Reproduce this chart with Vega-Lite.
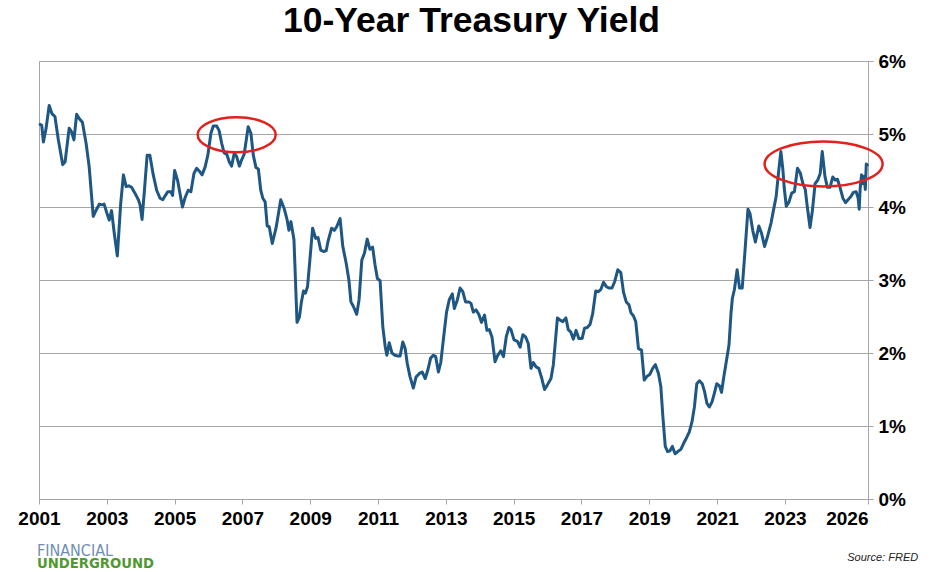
{
  "$schema": "https://vega.github.io/schema/vega-lite/v6.json",
  "width": 829,
  "height": 438,
  "autosize": {"type": "none"},
  "padding": {"left": 39, "top": 61, "right": 71, "bottom": 73},
  "background": "white",
  "title": {
    "text": "10-Year Treasury Yield",
    "font": "Liberation Sans",
    "fontSize": 35.5,
    "fontWeight": "bold",
    "color": "#000000",
    "anchor": "middle",
    "dx": 18,
    "offset": 13
  },
  "config": {
    "font": "Liberation Sans",
    "view": {"stroke": "#a6a6a6", "strokeWidth": 1}
  },
  "datasets": {
    "yield": [
      {"year": 2001.00, "pct": 5.14}, {"year": 2001.08, "pct": 5.12}, {"year": 2001.13, "pct": 4.89},
      {"year": 2001.21, "pct": 5.08}, {"year": 2001.30, "pct": 5.39}, {"year": 2001.38, "pct": 5.28},
      {"year": 2001.47, "pct": 5.24}, {"year": 2001.57, "pct": 4.92}, {"year": 2001.70, "pct": 4.58},
      {"year": 2001.77, "pct": 4.62}, {"year": 2001.89, "pct": 5.08}, {"year": 2001.96, "pct": 5.03},
      {"year": 2002.03, "pct": 4.92}, {"year": 2002.11, "pct": 5.27}, {"year": 2002.19, "pct": 5.21},
      {"year": 2002.28, "pct": 5.16}, {"year": 2002.39, "pct": 4.87}, {"year": 2002.48, "pct": 4.55},
      {"year": 2002.60, "pct": 3.87}, {"year": 2002.70, "pct": 3.97}, {"year": 2002.78, "pct": 4.04},
      {"year": 2002.85, "pct": 4.03}, {"year": 2002.92, "pct": 4.04}, {"year": 2003.00, "pct": 3.92},
      {"year": 2003.07, "pct": 3.82}, {"year": 2003.14, "pct": 3.95}, {"year": 2003.22, "pct": 3.64},
      {"year": 2003.31, "pct": 3.33}, {"year": 2003.41, "pct": 4.05}, {"year": 2003.49, "pct": 4.44},
      {"year": 2003.57, "pct": 4.28}, {"year": 2003.65, "pct": 4.29}, {"year": 2003.73, "pct": 4.27},
      {"year": 2003.83, "pct": 4.19}, {"year": 2003.93, "pct": 4.10}, {"year": 2003.98, "pct": 4.03},
      {"year": 2004.04, "pct": 3.83}, {"year": 2004.11, "pct": 4.23}, {"year": 2004.19, "pct": 4.71},
      {"year": 2004.27, "pct": 4.71}, {"year": 2004.37, "pct": 4.44}, {"year": 2004.47, "pct": 4.23},
      {"year": 2004.57, "pct": 4.12}, {"year": 2004.65, "pct": 4.10}, {"year": 2004.73, "pct": 4.16},
      {"year": 2004.80, "pct": 4.21}, {"year": 2004.89, "pct": 4.21}, {"year": 2004.94, "pct": 4.16},
      {"year": 2005.00, "pct": 4.50}, {"year": 2005.09, "pct": 4.36}, {"year": 2005.23, "pct": 4.00},
      {"year": 2005.31, "pct": 4.13}, {"year": 2005.40, "pct": 4.23}, {"year": 2005.48, "pct": 4.21},
      {"year": 2005.57, "pct": 4.46}, {"year": 2005.65, "pct": 4.53}, {"year": 2005.73, "pct": 4.49},
      {"year": 2005.81, "pct": 4.44}, {"year": 2005.90, "pct": 4.55}, {"year": 2005.98, "pct": 4.71},
      {"year": 2006.07, "pct": 5.01}, {"year": 2006.14, "pct": 5.11}, {"year": 2006.24, "pct": 5.11},
      {"year": 2006.31, "pct": 5.05}, {"year": 2006.39, "pct": 4.87}, {"year": 2006.46, "pct": 4.74},
      {"year": 2006.54, "pct": 4.72}, {"year": 2006.61, "pct": 4.62}, {"year": 2006.68, "pct": 4.56},
      {"year": 2006.76, "pct": 4.74}, {"year": 2006.83, "pct": 4.69}, {"year": 2006.91, "pct": 4.56},
      {"year": 2006.98, "pct": 4.65}, {"year": 2007.05, "pct": 4.72}, {"year": 2007.17, "pct": 5.10},
      {"year": 2007.25, "pct": 5.01}, {"year": 2007.32, "pct": 4.71}, {"year": 2007.40, "pct": 4.54},
      {"year": 2007.47, "pct": 4.52}, {"year": 2007.54, "pct": 4.23}, {"year": 2007.60, "pct": 4.12},
      {"year": 2007.67, "pct": 4.07}, {"year": 2007.73, "pct": 3.74}, {"year": 2007.79, "pct": 3.73},
      {"year": 2007.88, "pct": 3.50}, {"year": 2007.99, "pct": 3.71}, {"year": 2008.13, "pct": 4.10},
      {"year": 2008.23, "pct": 3.98}, {"year": 2008.32, "pct": 3.82}, {"year": 2008.37, "pct": 3.68},
      {"year": 2008.43, "pct": 3.80}, {"year": 2008.52, "pct": 3.55}, {"year": 2008.61, "pct": 2.42},
      {"year": 2008.68, "pct": 2.49}, {"year": 2008.74, "pct": 2.70}, {"year": 2008.80, "pct": 2.85},
      {"year": 2008.86, "pct": 2.82}, {"year": 2008.92, "pct": 2.91}, {"year": 2008.99, "pct": 3.28},
      {"year": 2009.07, "pct": 3.71}, {"year": 2009.16, "pct": 3.57}, {"year": 2009.23, "pct": 3.58},
      {"year": 2009.31, "pct": 3.41}, {"year": 2009.39, "pct": 3.39}, {"year": 2009.47, "pct": 3.40},
      {"year": 2009.53, "pct": 3.54}, {"year": 2009.63, "pct": 3.71}, {"year": 2009.71, "pct": 3.68},
      {"year": 2009.78, "pct": 3.73}, {"year": 2009.88, "pct": 3.84}, {"year": 2009.96, "pct": 3.46},
      {"year": 2010.06, "pct": 3.23}, {"year": 2010.14, "pct": 3.00}, {"year": 2010.20, "pct": 2.70},
      {"year": 2010.27, "pct": 2.64}, {"year": 2010.37, "pct": 2.53}, {"year": 2010.44, "pct": 2.73},
      {"year": 2010.52, "pct": 3.27}, {"year": 2010.60, "pct": 3.37}, {"year": 2010.68, "pct": 3.56},
      {"year": 2010.76, "pct": 3.42}, {"year": 2010.84, "pct": 3.45}, {"year": 2010.91, "pct": 3.21},
      {"year": 2010.98, "pct": 3.02}, {"year": 2011.06, "pct": 2.99}, {"year": 2011.14, "pct": 2.36},
      {"year": 2011.21, "pct": 2.09}, {"year": 2011.26, "pct": 1.97}, {"year": 2011.33, "pct": 2.14},
      {"year": 2011.41, "pct": 2.00}, {"year": 2011.49, "pct": 1.97}, {"year": 2011.57, "pct": 1.96},
      {"year": 2011.65, "pct": 1.96}, {"year": 2011.73, "pct": 2.15}, {"year": 2011.80, "pct": 2.06},
      {"year": 2011.86, "pct": 1.86}, {"year": 2011.94, "pct": 1.68}, {"year": 2012.04, "pct": 1.52},
      {"year": 2012.12, "pct": 1.67}, {"year": 2012.22, "pct": 1.72}, {"year": 2012.30, "pct": 1.74},
      {"year": 2012.39, "pct": 1.65}, {"year": 2012.47, "pct": 1.77}, {"year": 2012.55, "pct": 1.93},
      {"year": 2012.63, "pct": 1.97}, {"year": 2012.70, "pct": 1.95}, {"year": 2012.78, "pct": 1.74},
      {"year": 2012.85, "pct": 1.87}, {"year": 2012.93, "pct": 2.20}, {"year": 2013.02, "pct": 2.56},
      {"year": 2013.10, "pct": 2.73}, {"year": 2013.19, "pct": 2.81}, {"year": 2013.25, "pct": 2.61},
      {"year": 2013.34, "pct": 2.73}, {"year": 2013.42, "pct": 2.89}, {"year": 2013.50, "pct": 2.84},
      {"year": 2013.58, "pct": 2.70}, {"year": 2013.68, "pct": 2.70}, {"year": 2013.74, "pct": 2.68},
      {"year": 2013.81, "pct": 2.56}, {"year": 2013.89, "pct": 2.59}, {"year": 2013.97, "pct": 2.53},
      {"year": 2014.05, "pct": 2.42}, {"year": 2014.14, "pct": 2.52}, {"year": 2014.21, "pct": 2.31},
      {"year": 2014.28, "pct": 2.32}, {"year": 2014.36, "pct": 2.22}, {"year": 2014.45, "pct": 1.88},
      {"year": 2014.52, "pct": 1.96}, {"year": 2014.62, "pct": 2.03}, {"year": 2014.70, "pct": 1.95},
      {"year": 2014.78, "pct": 2.22}, {"year": 2014.86, "pct": 2.35}, {"year": 2014.92, "pct": 2.32},
      {"year": 2015.01, "pct": 2.18}, {"year": 2015.11, "pct": 2.16}, {"year": 2015.19, "pct": 2.08},
      {"year": 2015.27, "pct": 2.25}, {"year": 2015.35, "pct": 2.22}, {"year": 2015.43, "pct": 2.13},
      {"year": 2015.51, "pct": 1.79}, {"year": 2015.58, "pct": 1.87}, {"year": 2015.66, "pct": 1.81},
      {"year": 2015.74, "pct": 1.79}, {"year": 2015.83, "pct": 1.65}, {"year": 2015.91, "pct": 1.50},
      {"year": 2015.99, "pct": 1.56}, {"year": 2016.10, "pct": 1.65}, {"year": 2016.17, "pct": 1.84},
      {"year": 2016.29, "pct": 2.48}, {"year": 2016.37, "pct": 2.45}, {"year": 2016.45, "pct": 2.43},
      {"year": 2016.54, "pct": 2.48}, {"year": 2016.61, "pct": 2.32}, {"year": 2016.68, "pct": 2.29},
      {"year": 2016.76, "pct": 2.19}, {"year": 2016.84, "pct": 2.31}, {"year": 2016.92, "pct": 2.20},
      {"year": 2017.02, "pct": 2.20}, {"year": 2017.09, "pct": 2.34}, {"year": 2017.17, "pct": 2.35},
      {"year": 2017.25, "pct": 2.39}, {"year": 2017.33, "pct": 2.54}, {"year": 2017.42, "pct": 2.85},
      {"year": 2017.50, "pct": 2.84}, {"year": 2017.57, "pct": 2.87}, {"year": 2017.65, "pct": 2.97},
      {"year": 2017.73, "pct": 2.91}, {"year": 2017.81, "pct": 2.89}, {"year": 2017.90, "pct": 2.89},
      {"year": 2017.98, "pct": 2.98}, {"year": 2018.07, "pct": 3.14}, {"year": 2018.16, "pct": 3.10},
      {"year": 2018.24, "pct": 2.83}, {"year": 2018.32, "pct": 2.70}, {"year": 2018.40, "pct": 2.66},
      {"year": 2018.46, "pct": 2.55}, {"year": 2018.53, "pct": 2.51}, {"year": 2018.60, "pct": 2.43},
      {"year": 2018.68, "pct": 2.06}, {"year": 2018.77, "pct": 2.04}, {"year": 2018.85, "pct": 1.63},
      {"year": 2018.93, "pct": 1.68}, {"year": 2019.02, "pct": 1.71}, {"year": 2019.10, "pct": 1.79},
      {"year": 2019.18, "pct": 1.84}, {"year": 2019.27, "pct": 1.72}, {"year": 2019.34, "pct": 1.54},
      {"year": 2019.40, "pct": 1.13}, {"year": 2019.47, "pct": 0.72}, {"year": 2019.54, "pct": 0.65},
      {"year": 2019.61, "pct": 0.66}, {"year": 2019.68, "pct": 0.72}, {"year": 2019.76, "pct": 0.62},
      {"year": 2019.84, "pct": 0.65}, {"year": 2019.93, "pct": 0.68}, {"year": 2020.01, "pct": 0.76},
      {"year": 2020.11, "pct": 0.85}, {"year": 2020.18, "pct": 0.92}, {"year": 2020.26, "pct": 1.06},
      {"year": 2020.33, "pct": 1.26}, {"year": 2020.40, "pct": 1.58}, {"year": 2020.48, "pct": 1.62},
      {"year": 2020.56, "pct": 1.58}, {"year": 2020.63, "pct": 1.47}, {"year": 2020.70, "pct": 1.31},
      {"year": 2020.77, "pct": 1.26}, {"year": 2020.85, "pct": 1.33}, {"year": 2020.92, "pct": 1.45},
      {"year": 2020.99, "pct": 1.58}, {"year": 2021.07, "pct": 1.55}, {"year": 2021.13, "pct": 1.46},
      {"year": 2021.19, "pct": 1.65}, {"year": 2021.27, "pct": 1.88}, {"year": 2021.35, "pct": 2.11},
      {"year": 2021.41, "pct": 2.55}, {"year": 2021.45, "pct": 2.75}, {"year": 2021.51, "pct": 2.87},
      {"year": 2021.59, "pct": 3.14}, {"year": 2021.66, "pct": 2.89}, {"year": 2021.74, "pct": 2.89},
      {"year": 2021.81, "pct": 3.32}, {"year": 2021.91, "pct": 3.97}, {"year": 2021.97, "pct": 3.91},
      {"year": 2022.05, "pct": 3.68}, {"year": 2022.13, "pct": 3.52}, {"year": 2022.23, "pct": 3.74},
      {"year": 2022.31, "pct": 3.64}, {"year": 2022.40, "pct": 3.46}, {"year": 2022.49, "pct": 3.60},
      {"year": 2022.59, "pct": 3.78}, {"year": 2022.66, "pct": 3.95}, {"year": 2022.74, "pct": 4.14},
      {"year": 2022.82, "pct": 4.51}, {"year": 2022.88, "pct": 4.76}, {"year": 2022.94, "pct": 4.51},
      {"year": 2022.98, "pct": 4.26}, {"year": 2023.04, "pct": 4.01}, {"year": 2023.12, "pct": 4.07},
      {"year": 2023.20, "pct": 4.19}, {"year": 2023.28, "pct": 4.21}, {"year": 2023.37, "pct": 4.53},
      {"year": 2023.45, "pct": 4.47}, {"year": 2023.53, "pct": 4.32}, {"year": 2023.60, "pct": 4.24},
      {"year": 2023.66, "pct": 4.00}, {"year": 2023.74, "pct": 3.72}, {"year": 2023.81, "pct": 3.95},
      {"year": 2023.89, "pct": 4.32}, {"year": 2023.97, "pct": 4.37}, {"year": 2024.04, "pct": 4.46},
      {"year": 2024.10, "pct": 4.76}, {"year": 2024.18, "pct": 4.42}, {"year": 2024.25, "pct": 4.27},
      {"year": 2024.33, "pct": 4.27}, {"year": 2024.41, "pct": 4.41}, {"year": 2024.48, "pct": 4.37},
      {"year": 2024.55, "pct": 4.38}, {"year": 2024.63, "pct": 4.26}, {"year": 2024.71, "pct": 4.12},
      {"year": 2024.79, "pct": 4.06}, {"year": 2024.86, "pct": 4.10}, {"year": 2024.94, "pct": 4.14},
      {"year": 2025.02, "pct": 4.20}, {"year": 2025.10, "pct": 4.21}, {"year": 2025.16, "pct": 4.12},
      {"year": 2025.19, "pct": 3.97}, {"year": 2025.22, "pct": 4.26}, {"year": 2025.26, "pct": 4.44},
      {"year": 2025.30, "pct": 4.32}, {"year": 2025.34, "pct": 4.42}, {"year": 2025.37, "pct": 4.24},
      {"year": 2025.40, "pct": 4.59}, {"year": 2025.45, "pct": 4.56}
    ],
    "peak2006": [{"year": 2006.83, "pct": 4.99}],
    "peak2024": [{"year": 2024.14, "pct": 4.59}],
    "brand": [
      {"year": 2000.94, "pct": -0.78, "label": "FINANCIAL"}
    ],
    "brand2": [
      {"year": 2000.94, "pct": -0.95, "label": "UNDERGROUND"}
    ],
    "source": [
      {"year": 2026.93, "pct": -0.85, "label": "Source: FRED"}
    ]
  },
  "encoding": {
    "x": {
      "field": "year",
      "type": "quantitative",
      "title": null,
      "scale": {"domain": [2001, 2025.45], "nice": false, "zero": false},
      "axis": {
        "values": [2001, 2003, 2005, 2007, 2009, 2011, 2013, 2015, 2017, 2019, 2021, 2023, 2025.45],
        "labelExpr": "datum.value > 2024 ? '2026' : format(datum.value, 'd')",
        "labelAlign": {"condition": {"test": "datum.value > 2024", "value": "right"}, "value": "center"},
        "labelFont": "Liberation Sans",
        "labelFontSize": 19,
        "labelFontWeight": "bold",
        "labelColor": "#000000",
        "labelPadding": 5,
        "labelOverlap": false,
        "tickSize": 5,
        "tickColor": "#a6a6a6",
        "domainColor": "#a6a6a6",
        "grid": false
      }
    },
    "y": {
      "field": "pct",
      "type": "quantitative",
      "title": null,
      "scale": {"domain": [0, 6], "nice": false, "zero": true},
      "axis": {
        "orient": "right",
        "values": [0, 1, 2, 3, 4, 5, 6],
        "labelExpr": "datum.value + '%'",
        "labelFont": "Liberation Sans",
        "labelFontSize": 19,
        "labelFontWeight": "bold",
        "labelColor": "#000000",
        "labelPadding": 5,
        "tickSize": 5,
        "tickColor": "#a6a6a6",
        "domainColor": "#a6a6a6",
        "grid": true,
        "gridColor": "#a6a6a6",
        "gridWidth": 1
      }
    }
  },
  "layer": [
    {
      "data": {"name": "yield"},
      "mark": {"type": "line", "color": "#1f5784", "strokeWidth": 3, "strokeJoin": "round"}
    },
    {
      "data": {"name": "peak2006"},
      "mark": {
        "type": "point",
        "shape": "M-1,0C-1,-0.248,-0.552,-0.449,0,-0.449C0.552,-0.449,1,-0.248,1,0C1,0.248,0.552,0.449,0,0.449C-0.552,0.449,-1,0.248,-1,0Z",
        "size": 6084,
        "filled": false,
        "stroke": "#e3201b",
        "strokeWidth": 2.5,
        "opacity": 1
      }
    },
    {
      "data": {"name": "peak2024"},
      "mark": {
        "type": "point",
        "shape": "M-1,0C-1,-0.21,-0.552,-0.381,0,-0.381C0.552,-0.381,1,-0.21,1,0C1,0.21,0.552,0.381,0,0.381C-0.552,0.381,-1,0.21,-1,0Z",
        "size": 13924,
        "filled": false,
        "stroke": "#e3201b",
        "strokeWidth": 2.5,
        "opacity": 1
      }
    },
    {
      "data": {"name": "brand"},
      "mark": {"type": "text", "align": "left", "baseline": "alphabetic", "font": "DejaVu Sans Condensed, Liberation Sans", "fontSize": 16, "color": "#6f8fb2"},
      "encoding": {"text": {"field": "label"}}
    },
    {
      "data": {"name": "brand2"},
      "mark": {"type": "text", "align": "left", "baseline": "alphabetic", "font": "DejaVu Sans Condensed, Liberation Sans", "fontSize": 14.7, "fontWeight": "bold", "color": "#4f9a2f"},
      "encoding": {"text": {"field": "label"}}
    },
    {
      "data": {"name": "source"},
      "mark": {"type": "text", "align": "right", "baseline": "alphabetic", "font": "Liberation Sans", "fontSize": 11, "fontStyle": "italic", "color": "#222222"},
      "encoding": {"text": {"field": "label"}}
    }
  ]
}
